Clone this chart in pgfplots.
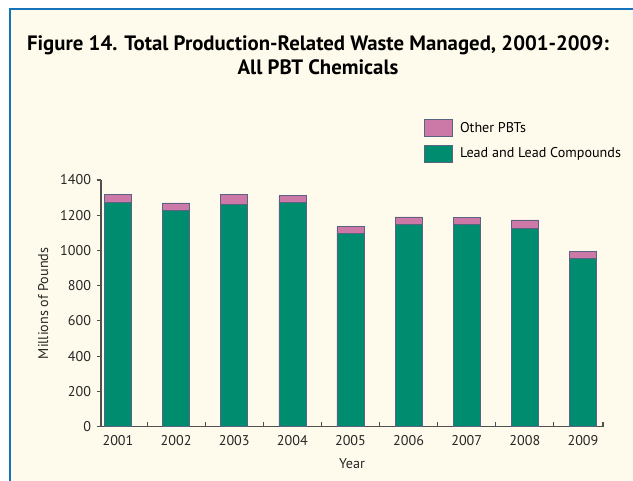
\documentclass[border=0pt]{standalone}
\usepackage{pgfplots}
\pgfplotsset{compat=1.18}
\usepackage{fontspec}
\setmainfont{PT Sans}
\definecolor{leadgreen}{RGB}{0,140,110}
\definecolor{otherpink}{RGB}{204,121,168}
\definecolor{cream}{RGB}{255,251,236}
\definecolor{frameblue}{RGB}{20,115,185}
\definecolor{barline}{RGB}{90,100,130}
\definecolor{axisgray}{RGB}{80,80,80}
\begin{document}
\begin{tikzpicture}
\path[use as bounding box] (0,0) rectangle (474.75pt,-360.75pt);
\fill[white] (0,0) rectangle (474.75pt,-360.75pt);
\fill[cream] (7.5pt,-7.5pt) rectangle (474.75pt,-360.75pt);
\draw[frameblue,line width=1.6pt] (7.2pt,-360.75pt) -- (7.2pt,-6.6pt) -- (474.75pt,-6.6pt);
\node[font=\bfseries\fontsize{15.6}{17.5}\selectfont,align=center] at (238.5pt,-41.3pt)
  {Figure 14. Total Production-Related Waste Managed, 2001-2009:\\All PBT Chemicals};
\begin{axis}[
  at={(75.75pt,-320pt)}, anchor=south west,
  scale only axis, width=376.5pt, height=185pt,
  xmin=-0.292, xmax=8.344, ymin=0, ymax=1400,
  ybar stacked, bar width=20.25pt,
  axis x line=bottom, axis y line=left,
  axis line style={-,axisgray,line width=0.8pt},
  xtick={0,...,8},
  xticklabels={2001,2002,2003,2004,2005,2006,2007,2008,2009},
  major x tick style={draw=none},
  minor xtick={0.5,1.5,2.5,3.5,4.5,5.5,6.5,7.5,8.344},
  minor tick length=3.75pt,
  minor x tick style={axisgray,line width=0.8pt,yshift=3.75pt},
  tick align=outside,
  ytick={0,200,...,1400},
  major tick length=3pt,
  y tick style={axisgray,line width=0.8pt},
  /pgf/number format/assume math mode=true,
  /pgf/number format/1000 sep={},
  tick label style={font=\fontsize{10.6}{12}\selectfont, text=black!85},
  xticklabel style={yshift=0pt},
  yticklabel style={xshift=-1pt},
  ylabel={Millions of Pounds},
  xlabel={Year},
  label style={font=\fontsize{10.6}{12}\selectfont, text=black!85},
  ylabel style={yshift=2pt},
  xlabel style={yshift=-3.2pt},
  legend style={at={(0.643,1.247)}, anchor=north west, draw=none, fill=none,
    font=\fontsize{10.6}{12}\selectfont, row sep=6pt, inner sep=0pt,
    cells={anchor=west}, nodes={inner xsep=5.5pt}},
  legend image code/.code={\draw[#1] (0pt,-6.4pt) rectangle (21pt,6.4pt);},
  reverse legend,
]
\addplot[fill=leadgreen, draw=barline, line width=0.5pt] coordinates
  {(0,1271) (1,1226) (2,1260) (3,1271) (4,1096) (5,1150) (6,1146) (7,1127) (8,955)};
\addlegendentry{Lead and Lead Compounds}
\addplot[fill=otherpink, draw=barline, line width=0.5pt] coordinates
  {(0,46) (1,44) (2,57) (3,40) (4,40) (5,40) (6,41) (7,46) (8,40)};
\addlegendentry{Other PBTs}
\end{axis}
\end{tikzpicture}
\end{document}
